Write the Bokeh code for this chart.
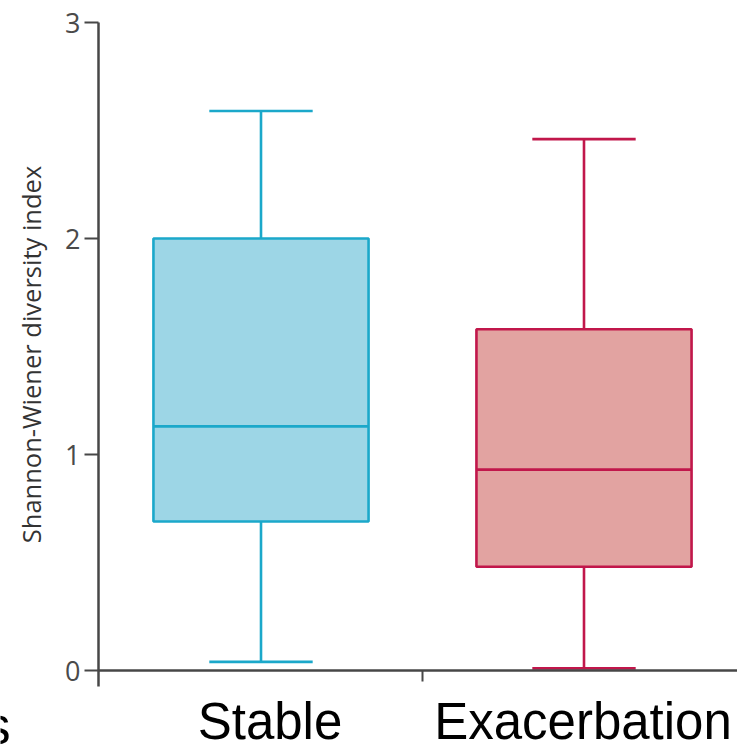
from bokeh.plotting import figure
from bokeh.models import LinearAxis, FixedTicker, ColumnDataSource
from bokeh.embed import file_html
from bokeh.resources import INLINE
from bokeh.core.properties import value

# Shannon-Wiener diversity by clinical state (box-and-whisker summary)
categories = ["Stable", "Exacerbation"]
positions = [1, 2]
whisker_low = [0.04, 0.01]
q1 = [0.69, 0.48]
median = [1.13, 0.93]
q3 = [2.00, 1.58]
whisker_high = [2.59, 2.46]
y_ticks = [0, 1, 2, 3]
x_ticks = [1.5]
edge_text = ["s"]

fill_colors = ["#9dd6e6", "#e2a3a1"]
line_colors = ["#1ba8ca", "#c1174b"]

BOX_W = 0.666
CAP_W = 0.32
W, H = 737, 745

# screen geometry: 323 px per category step, 216 px per diversity unit
px_x, px_y = 323.0, 216.0
x_start = 1 - 260.5 / px_x
x_end = x_start + W / px_x
y_end = 3 + 22 / px_y
y_start = -(H - 670) / px_y
axis_x = 1 - (260.5 - 98) / px_x

p = figure(width=W, height=H, x_range=(x_start, x_end), y_range=(y_start, y_end),
           min_border=0, toolbar_location=None, output_backend="svg",
           x_axis_type=None, y_axis_type=None)
p.outline_line_color = None
p.background_fill_color = "white"
p.border_fill_color = "white"

src = ColumnDataSource(dict(
    x=positions,
    lo=whisker_low, q1=q1, med=median, q3=q3, hi=whisker_high,
    left=[v - BOX_W / 2 for v in positions],
    right=[v + BOX_W / 2 for v in positions],
    cl=[v - CAP_W / 2 for v in positions],
    cr=[v + CAP_W / 2 for v in positions],
    fill=fill_colors, line=line_colors,
))

LW = 2.6
# whiskers and caps
p.segment(x0="x", y0="q3", x1="x", y1="hi", source=src, line_color="line", line_width=LW)
p.segment(x0="x", y0="lo", x1="x", y1="q1", source=src, line_color="line", line_width=LW)
p.segment(x0="cl", y0="hi", x1="cr", y1="hi", source=src, line_color="line", line_width=LW)
p.segment(x0="cl", y0="lo", x1="cr", y1="lo", source=src, line_color="line", line_width=LW)
# boxes and medians
p.vbar(x="x", width=BOX_W, bottom="q1", top="q3", source=src,
       fill_color="fill", line_color="line", line_width=LW)
p.segment(x0="left", y0="med", x1="right", y1="med", source=src, line_color="line", line_width=LW)

AXIS_COLOR = "#474747"

yaxis = LinearAxis(fixed_location=axis_x, bounds=(-0.074, 3),
                   ticker=FixedTicker(ticks=y_ticks),
                   axis_label="Shannon-Wiener diversity index")
yaxis.axis_line_color = AXIS_COLOR
yaxis.axis_line_width = 2.5
yaxis.major_tick_line_color = AXIS_COLOR
yaxis.major_tick_line_width = 2
yaxis.major_tick_out = 14
yaxis.major_tick_in = 0
yaxis.minor_tick_line_color = None
yaxis.major_label_text_font = "Open Sans"
yaxis.major_label_text_font_size = "27px"
yaxis.major_label_text_color = "#4a4a4a"
yaxis.major_label_standoff = 4
yaxis.axis_label_text_font = "Open Sans"
yaxis.axis_label_text_font_size = "25.5px"
yaxis.axis_label_text_font_style = "normal"
yaxis.axis_label_text_color = "#333333"
yaxis.axis_label_standoff = 14
p.add_layout(yaxis, "left")

xaxis = LinearAxis(fixed_location=0, bounds=(axis_x, x_end),
                   ticker=FixedTicker(ticks=x_ticks))
xaxis.axis_line_color = AXIS_COLOR
xaxis.axis_line_width = 2.5
xaxis.major_tick_line_color = AXIS_COLOR
xaxis.major_tick_line_width = 2
xaxis.major_tick_out = 11
xaxis.major_tick_in = 0
xaxis.minor_tick_line_color = None
xaxis.major_label_overrides = {1.5: ""}
p.add_layout(xaxis, "below")

# category names under the zero line
p.text(x=positions, y=[0, 0], text=categories, text_align="center",
       text_baseline="alphabetic", y_offset=51, x_offset=[9, -1],
       text_font=value("Liberation Sans"), text_font_size="51px", text_color="black")

# tail of a neighbouring label at the left edge
p.text(x=[x_start], y=[0], text=edge_text, text_align="right",
       text_baseline="alphabetic", x_offset=10, y_offset=56,
       text_font=value("Liberation Sans"), text_font_size="51px", text_color="black")

open("out.html", "w").write(file_html(p, INLINE))
